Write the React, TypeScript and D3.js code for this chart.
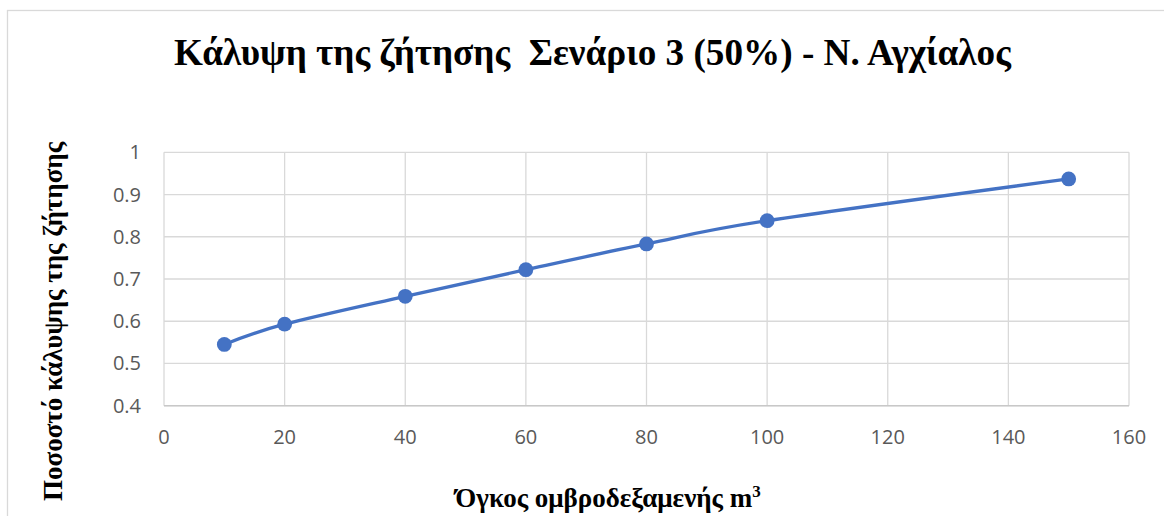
import React from "react";
import * as d3 from "d3";

const volumes = [10, 20, 40, 60, 80, 100, 150];
const coverage = [0.545, 0.593, 0.659, 0.722, 0.783, 0.838, 0.937];
const xTicks = [0, 20, 40, 60, 80, 100, 120, 140, 160];
const yTicks = [0.4, 0.5, 0.6, 0.7, 0.8, 0.9, 1];

const title = "Κάλυψη της ζήτησης  Σενάριο 3 (50%) - Ν. Αγχίαλος";
const xLabel = "Όγκος ομβροδεξαμενής m";
const yLabel = "Ποσοστό κάλυψης της ζήτησης";

const W = 1164;
const H = 516;
const plot = { left: 164, right: 1129, top: 152.3, bottom: 405.7 };

export default function App() {
  const x = d3.scaleLinear().domain([0, 160]).range([plot.left, plot.right]);
  const y = d3.scaleLinear().domain([0.4, 1]).range([plot.bottom, plot.top]);
  const pts: [number, number][] = volumes.map((v, i) => [v, coverage[i]]);
  const line = d3
    .line<[number, number]>()
    .x((d) => x(d[0]))
    .y((d) => y(d[1]))
    .curve(d3.curveCardinal.tension(0));
  const serif = "'Liberation Serif', 'Times New Roman', serif";
  const sans = "'Open Sans', sans-serif";
  const grid = "#d9d9d9";
  const blue = "#4472C4";
  const fmt = (v: number) => (v === 1 ? "1" : d3.format(".1f")(v));

  return (
    <svg
      width={W}
      height={H}
      style={{ position: "absolute", left: 0, top: 0, background: "#fff" }}
    >
      <rect x={7.5} y={10.5} width={W + 20} height={H + 20} fill="#fff" stroke={grid} strokeWidth={1.3} />
      <text
        x={592.5}
        y={65}
        textAnchor="middle"
        fontFamily={serif}
        fontWeight="bold"
        fontSize={37.2}
        fill="#000"
        style={{ whiteSpace: "pre" }}
      >
        {title}
      </text>
      {yTicks.map((t) => (
        <line key={"gy" + t} x1={plot.left} x2={plot.right} y1={y(t)} y2={y(t)} stroke={grid} strokeWidth={1.3} />
      ))}
      {xTicks.map((t) => (
        <line key={"gx" + t} x1={x(t)} x2={x(t)} y1={plot.top} y2={plot.bottom} stroke={grid} strokeWidth={1.3} />
      ))}
      <line x1={plot.left} x2={plot.right} y1={plot.bottom} y2={plot.bottom} stroke="#c8c8c8" strokeWidth={1.5} />
      {yTicks.map((t) => (
        <text key={"ty" + t} x={141} y={y(t) + 7} textAnchor="end" fontFamily={sans} fontSize={20} fill="#595959">
          {fmt(t)}
        </text>
      ))}
      {xTicks.map((t) => (
        <text key={"tx" + t} x={x(t)} y={444} textAnchor="middle" fontFamily={sans} fontSize={20} fill="#595959">
          {t}
        </text>
      ))}
      <path d={line(pts) || ""} fill="none" stroke={blue} strokeWidth={3.3} strokeLinecap="round" />
      {pts.map((p, i) => (
        <circle key={"m" + i} cx={x(p[0])} cy={y(p[1])} r={7.4} fill={blue} />
      ))}
      <text x={608} y={506.5} textAnchor="middle" fontFamily={serif} fontWeight="bold" fontSize={27} fill="#000">
        {xLabel}
        <tspan dy={-10} fontSize={17}>3</tspan>
      </text>
      <text
        transform={`translate(61.5, 321.5) rotate(-90)`}
        textAnchor="middle"
        fontFamily={serif}
        fontWeight="bold"
        fontSize={27}
        fill="#000"
      >
        {yLabel}
      </text>
    </svg>
  );
}
